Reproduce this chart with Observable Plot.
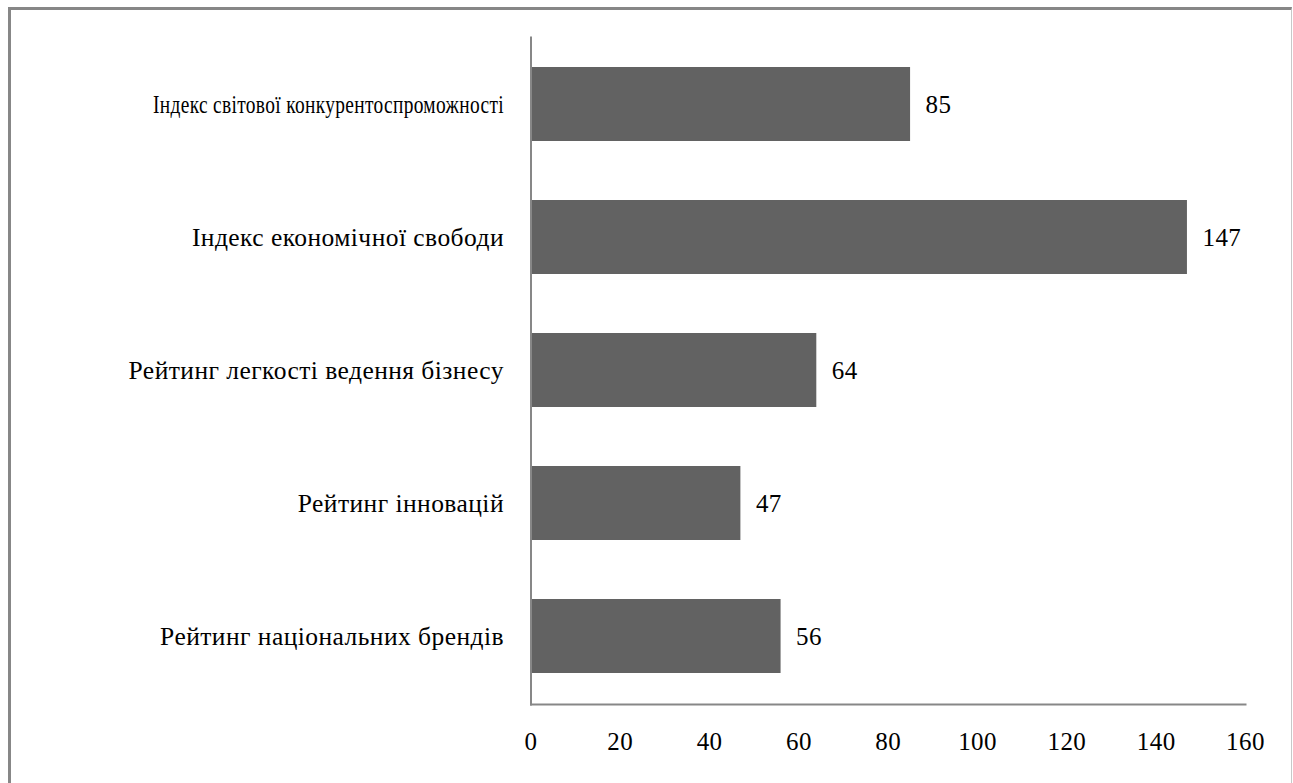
<!DOCTYPE html>
<html>
<head>
<meta charset="utf-8">
<script src="https://cdn.jsdelivr.net/npm/d3@7"></script>
<script src="https://cdn.jsdelivr.net/npm/@observablehq/plot@0.6"></script>
<style>
  html, body { margin: 0; padding: 0; background: #fff; }
  #wrap { position: relative; width: 1293px; height: 783px; overflow: hidden; }
  #border { position: absolute; left: 8px; top: 7px; width: 1284px; height: 800px;
    border-top: 3px solid #878787; border-left: 3px solid #878787; border-right: 1px solid #c8c8c8; box-sizing: border-box; }
  #chart { position: absolute; left: 0; top: 0; }
  #chart svg, #chart svg text, #chart svg g { font-family: "Liberation Serif", "Times New Roman", serif !important; }
  #chart svg text { letter-spacing: 0.45px; }
</style>
</head>
<body>
<div id="wrap"><div id="border"></div><div id="chart"></div></div>
<script>
const categories = [
  "Індекс світової конкурентоспроможності",
  "Індекс економічної свободи",
  "Рейтинг легкості ведення бізнесу",
  "Рейтинг інновацій",
  "Рейтинг національних брендів"
];
const values = [85, 147, 64, 47, 56];
const xTicks = [0, 20, 40, 60, 80, 100, 120, 140, 160];

const data = categories.map((c, i) => ({category: c, value: values[i]}));

const chart = Plot.plot({
  width: 1293,
  height: 783,
  marginLeft: 530.5,
  marginRight: 48,
  marginTop: 37,
  marginBottom: 79,
  style: {fontSize: "25.5px", color: "#000", background: "transparent"},
  x: {domain: [0, 160], ticks: xTicks},
  y: {domain: categories, paddingInner: 0.44, paddingOuter: 0.22},
  marks: [
    Plot.barX(data, {x: "value", y: "category", fill: "#626262"}),
    Plot.text(data, {x: "value", y: "category", text: d => String(d.value), dx: 15, textAnchor: "start", fill: "#000", fontSize: 25}),
    Plot.frame({anchor: "left", stroke: "#878787", strokeWidth: 2}),
    Plot.frame({anchor: "bottom", stroke: "#878787", strokeWidth: 2}),
    Plot.axisX({ticks: xTicks, tickSize: 0, tickPadding: 28, fontSize: 25, label: null}),
    Plot.axisY({tickSize: 0, tickPadding: 27, fontSize: 25.5, label: null})
  ]
});
// the first category label is horizontally condensed in the reference
d3.select(chart).selectAll("text").filter(function() { return this.textContent === categories[0]; })
  .attr("textLength", 351).attr("lengthAdjust", "spacingAndGlyphs");
document.getElementById("chart").appendChild(chart);
</script>
</body>
</html>
